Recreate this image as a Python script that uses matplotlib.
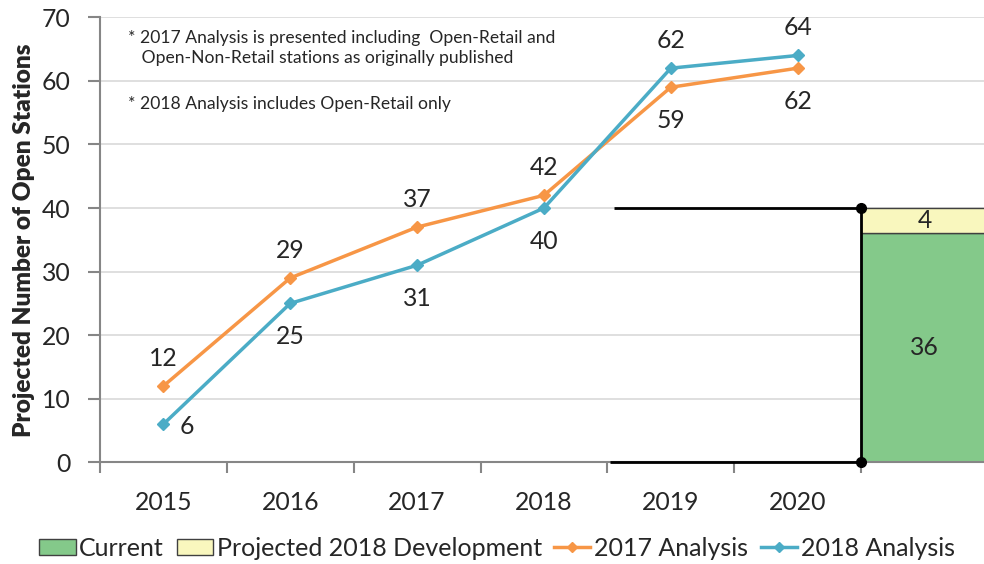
import matplotlib
matplotlib.use("Agg")
import matplotlib.pyplot as plt
import numpy as np
from matplotlib.patches import Patch
from matplotlib.lines import Line2D

plt.rcParams['font.family'] = ['Lato', 'DejaVu Sans']

years = ['2015', '2016', '2017', '2018', '2019', '2020']
analysis_2017 = [12, 29, 37, 42, 59, 62]
analysis_2018 = [6, 25, 31, 40, 62, 64]
label_pos_2017 = ['above', 'above', 'above', 'above', 'below', 'below']
label_pos_2018 = ['right', 'below', 'below', 'below', 'above', 'above']
current = [36]
projected_dev = [4]
bracket_x_start = [3.55, 3.52]
bracket_levels = [40, 0]
yticks = [0, 10, 20, 30, 40, 50, 60, 70]
notes = ["* 2017 Analysis is presented including  Open-Retail and\n   Open-Non-Retail stations as originally published",
         "* 2018 Analysis includes Open-Retail only"]

ORANGE = '#F79646'
BLUE = '#4BACC6'
GREEN = '#84C98A'
YELLOW = '#F9F7BE'
GRID = '#D9D9D9'
AXIS = '#868686'
TXT = '#262626'
FS = 17.8

fig = plt.figure(figsize=(9.84, 5.64), dpi=100)
ax = fig.add_axes([0.1016, 0.1803, 0.9024, 0.7890])

x = np.arange(len(years))
bar_x = len(years)

ax.set_xlim(-0.5, len(years) + 0.5)
ax.set_ylim(0, 70)

ax.set_yticks(yticks)
ax.yaxis.grid(True, color=GRID, lw=1.2, zorder=0)
ax.set_axisbelow(True)
for s in ['top', 'right']:
    ax.spines[s].set_visible(False)
for s in ['left', 'bottom']:
    ax.spines[s].set_color(AXIS)
    ax.spines[s].set_linewidth(1.5)

ax.set_xticks(np.arange(len(years) + 1) - 0.5, minor=False)
ax.set_xticklabels([])
ax.set_xticks(x, minor=True)
ax.set_xticklabels(years, minor=True)
ax.tick_params(axis='x', which='major', length=8, width=1.5, color=AXIS, direction='out')
ax.tick_params(axis='x', which='minor', length=0, pad=21, labelsize=FS, labelcolor=TXT)
ax.tick_params(axis='y', length=9, width=1.5, color=AXIS, pad=12, labelsize=FS, labelcolor=TXT)

ax.set_ylabel('Projected Number of Open Stations', fontsize=17.6, fontweight='heavy', color=TXT, labelpad=5)

# stacked bar
ax.bar([bar_x], current, width=1.0, color=GREEN, edgecolor='#404040', lw=1, zorder=2)
ax.bar([bar_x], projected_dev, bottom=current, width=1.0, color=YELLOW, edgecolor='#404040', lw=1, zorder=2)
ax.text(bar_x, current[0] / 2, str(current[0]), ha='center', va='center', fontsize=FS, color=TXT, zorder=5)
ax.text(bar_x, current[0] + projected_dev[0] / 2, str(projected_dev[0]), ha='center', va='center', fontsize=FS, color=TXT, zorder=5)

# bracket
edge = bar_x - 0.5
for xs, lv in zip(bracket_x_start, bracket_levels):
    ax.plot([xs, edge], [lv, lv], color='black', lw=2, zorder=4, clip_on=False, solid_capstyle='butt')
ax.plot([edge, edge], bracket_levels, color='black', lw=2, zorder=4, marker='o', ms=7, clip_on=False)

# lines
ax.plot(x, analysis_2017, color=ORANGE, lw=2.5, marker='D', ms=6, zorder=6)
ax.plot(x, analysis_2018, color=BLUE, lw=2.5, marker='D', ms=6, zorder=7)

offsets = {'above': (0, 20, 'center', 'center'), 'below': (0, -24, 'center', 'center'),
           'right': (17, -2, 'center', 'center')}
for vals, poss in [(analysis_2017, label_pos_2017), (analysis_2018, label_pos_2018)]:
    for xi, v, p in zip(x, vals, poss):
        dx, dy, ha, va = offsets[p]
        ax.annotate(str(v), (xi, v), xytext=(dx, dy), textcoords='offset points',
                    ha=ha, va=va, fontsize=FS, color=TXT, zorder=8)

# notes
ax.text(128, 564 - 48, notes[0], transform=None, fontsize=12.6, color=TXT, va='center', ha='left', linespacing=1.3)
ax.text(128, 564 - 104, notes[1], transform=None, fontsize=12.6, color=TXT, va='center', ha='left')

handles = [Patch(facecolor=GREEN, edgecolor='#404040', lw=1),
           Patch(facecolor=YELLOW, edgecolor='#404040', lw=1),
           Line2D([], [], color=ORANGE, lw=2.5, marker='D', ms=5),
           Line2D([], [], color=BLUE, lw=2.5, marker='D', ms=5)]
labels = ['Current', 'Projected 2018 Development', '2017 Analysis', '2018 Analysis']
fig.legend(handles, labels, loc='center', bbox_to_anchor=(497 / 984, 1 - 548 / 564), ncol=4,
           frameon=False, fontsize=18, handlelength=1.45, handleheight=0.62, handletextpad=0.15,
           columnspacing=0.5, labelcolor=TXT, borderpad=0)

fig.savefig('out.png', dpi=100)
